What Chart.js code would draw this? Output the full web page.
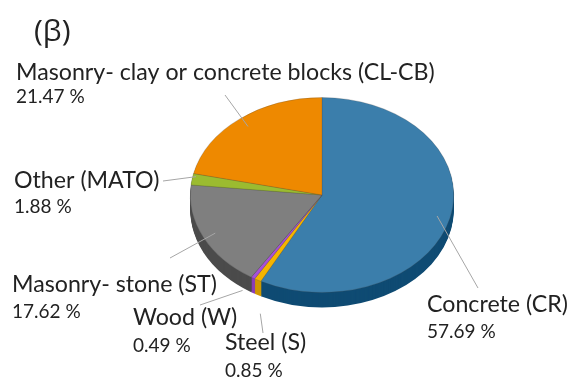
<!DOCTYPE html>
<html>
<head>
<meta charset="utf-8">
<script src="https://cdn.jsdelivr.net/npm/chart.js@4/dist/chart.umd.min.js"></script>
<style>
  body { margin: 0; background: #fff; }
  canvas { display: block; }
</style>
</head>
<body>
<canvas id="materialChart" width="573" height="382"></canvas>
<script>
// Building stock by main structural material
const categories = ['Concrete (CR)', 'Steel (S)', 'Wood (W)', 'Masonry- stone (ST)', 'Other (MATO)', 'Masonry- clay or concrete blocks (CL-CB)'];
const shares = [57.69, 0.85, 0.49, 17.62, 1.88, 21.47];
const topColors = ['#3b7eab', '#f4b400', '#a650d8', '#7f7f7f', '#9bbb30', '#ee8900'];
const sideColors = ['#0f4b73', '#cf9800', '#8a3cb8', '#4b4b4b', '#6f8a1c', '#b86800'];

// label boxes: text x, name baseline, percent baseline, leader end point,
// leader start as a fraction of the radius along the slice middle (+ extra drop)
const labelSpots = [
  { x: 427, yName: 312, yPct: 338, endX: 478, endY: 288, f: 0.9, drop: 0 },
  { x: 225, yName: 350, yPct: 377, endX: 263, endY: 333, f: 0.96, drop: 37 },
  { x: 133, yName: 325, yPct: 352, endX: 200, endY: 305, f: 1.15, drop: 0 },
  { x: 12, yName: 292, yPct: 318, endX: 170, endY: 258, f: 0.9, drop: 0 },
  { x: 14, yName: 188, yPct: 213, endX: 163, endY: 181, f: 0.97, drop: -3 },
  { x: 16, yName: 80, yPct: 103, endX: 225, endY: 95, f: 0.9, drop: 0 }
];

const TILT = 0.74;   // vertical squash of the pie
const DEPTH = 15;    // side wall height, px

// squash the pie into an ellipse and paint the side wall underneath
const tiltPlugin = {
  id: 'tilt',
  beforeDatasetsDraw(chart) {
    const ctx = chart.ctx;
    const meta = chart.getDatasetMeta(0);
    const cy = meta.data[0].y;
    ctx.save();
    ctx.translate(0, cy);
    ctx.scale(1, TILT);
    ctx.translate(0, -cy);
    for (let d = DEPTH; d > 0; d--) {
      meta.data.forEach((arc, i) => {
        const p = arc.getProps(['x', 'y', 'startAngle', 'endAngle', 'outerRadius'], true);
        const yy = p.y + d / TILT;
        ctx.beginPath();
        ctx.moveTo(p.x, yy);
        ctx.arc(p.x, yy, p.outerRadius, p.startAngle, p.endAngle);
        ctx.closePath();
        ctx.fillStyle = sideColors[i];
        ctx.fill();
      });
    }
  },
  afterDatasetsDraw(chart) {
    chart.ctx.restore();
  }
};

// panel letter, category labels and leader lines
const labelPlugin = {
  id: 'sliceLabels',
  afterDraw(chart) {
    const ctx = chart.ctx;
    const meta = chart.getDatasetMeta(0);
    ctx.save();
    ctx.fillStyle = '#222';
    ctx.textBaseline = 'alphabetic';
    ctx.textAlign = 'left';
    ctx.font = '30px "Open Sans", "Noto Sans", sans-serif';
    ctx.fillText('(\u03b2)', 34, 41);

    meta.data.forEach((arc, i) => {
      const p = arc.getProps(['x', 'y', 'startAngle', 'endAngle', 'outerRadius'], true);
      const s = labelSpots[i];
      const mid = (p.startAngle + p.endAngle) / 2;
      const sx = p.x + Math.cos(mid) * p.outerRadius * s.f;
      const sy = p.y + Math.sin(mid) * p.outerRadius * s.f * TILT + s.drop;
      ctx.strokeStyle = '#a6a6a6';
      ctx.lineWidth = 1;
      ctx.beginPath();
      ctx.moveTo(sx, sy);
      ctx.lineTo(s.endX, s.endY);
      ctx.stroke();

      ctx.fillStyle = '#222';
      ctx.font = '23.2px Lato, "Noto Sans", sans-serif';
      ctx.fillText(categories[i], s.x, s.yName);
      ctx.font = '19px Lato, "Noto Sans", sans-serif';
      ctx.fillText(shares[i].toFixed(2) + ' %', s.x, s.yPct);
    });
    ctx.restore();
  }
};

new Chart(document.getElementById('materialChart'), {
  type: 'pie',
  data: {
    labels: categories,
    datasets: [{
      data: shares,
      backgroundColor: topColors,
      borderColor: 'rgba(70,70,70,0.45)',
      borderWidth: 0.6,
      clip: false
    }]
  },
  options: {
    responsive: false,
    animation: false,
    events: [],
    layout: { padding: { left: 190, right: 119, top: 63, bottom: 55 } },
    plugins: {
      legend: { display: false },
      tooltip: { enabled: false }
    }
  },
  plugins: [tiltPlugin, labelPlugin]
});
</script>
</body>
</html>
